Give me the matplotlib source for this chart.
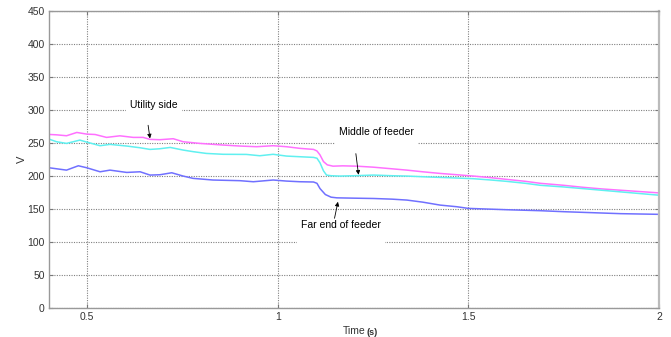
import matplotlib
matplotlib.use('Agg')
import matplotlib.pyplot as plt

plt.rcParams['font.family'] = ['Liberation Sans', 'DejaVu Sans']

# feeder voltage profiles (V) over time (s)
t_util = [0.40, 0.42, 0.446, 0.473, 0.499, 0.521, 0.551, 0.586, 0.621, 0.647, 0.665, 0.691,
          0.726, 0.752, 0.796, 0.857, 0.901, 0.945, 0.988, 1.023, 1.058, 1.094, 1.103, 1.111,
          1.120, 1.130, 1.145, 1.17, 1.207, 1.25, 1.30, 1.339, 1.38, 1.426, 1.47, 1.513, 1.56,
          1.60, 1.65, 1.689, 1.75, 1.80, 1.85, 1.90, 1.95, 2.00]
v_util = [263.1, 262.5, 261.1, 266.1, 263.6, 263.0, 258.6, 261.0, 258.6, 258.6, 255.6, 255.1,
          256.6, 252.0, 249.5, 247.0, 245.5, 244.5, 246.0, 244.5, 242.0, 240.4, 238.0, 232.0,
          222.0, 217.0, 215.0, 215.5, 215.0, 213.5, 211.0, 209.0, 206.5, 204.0, 202.0, 200.0, 197.5,
          195.0, 192.0, 189.0, 186.0, 183.0, 180.5, 178.5, 176.5, 174.5]

t_mid = [0.40, 0.42, 0.446, 0.481, 0.499, 0.534, 0.56, 0.604, 0.639, 0.665, 0.691, 0.718,
         0.752, 0.778, 0.813, 0.857, 0.918, 0.953, 0.988, 1.023, 1.058, 1.094, 1.103, 1.111,
         1.120, 1.128, 1.14, 1.163, 1.20, 1.252, 1.30, 1.339, 1.40, 1.45, 1.513, 1.56, 1.60,
         1.65, 1.689, 1.75, 1.80, 1.85, 1.90, 1.95, 2.00]
v_mid = [256.0, 252.0, 249.5, 254.5, 251.5, 246.0, 248.0, 245.5, 242.9, 240.4, 241.4, 243.4,
         239.4, 237.0, 234.3, 233.0, 232.8, 230.8, 233.0, 230.3, 229.3, 228.3, 227.0, 220.0,
         208.0, 201.5, 200.5, 200.0, 200.5, 201.5, 200.5, 200.0, 198.5, 197.5, 196.0, 194.0, 192.0,
         189.0, 186.0, 183.5, 181.0, 178.5, 176.0, 173.5, 171.0]

t_far = [0.40, 0.446, 0.477, 0.499, 0.534, 0.56, 0.604, 0.639, 0.665, 0.691, 0.722, 0.752,
         0.778, 0.83, 0.901, 0.936, 0.988, 1.023, 1.058, 1.094, 1.103, 1.111, 1.125, 1.14,
         1.155, 1.20, 1.252, 1.30, 1.339, 1.38, 1.426, 1.47, 1.50, 1.55, 1.60, 1.689, 1.75,
         1.80, 1.85, 1.90, 1.95, 2.00]
v_far = [212.6, 209.0, 215.6, 212.6, 206.5, 209.0, 205.5, 206.5, 201.5, 202.0, 205.0, 200.0,
         196.5, 194.0, 193.0, 191.4, 194.0, 192.4, 191.4, 191.0, 189.0, 181.0, 172.0, 168.0,
         167.0, 166.5, 166.0, 165.0, 163.6, 160.5, 156.0, 153.5, 151.0, 150.0, 149.0, 147.5, 146.0,
         145.0, 144.0, 143.0, 142.5, 142.0]

x_ticks = [0.5, 1, 1.5, 2]
x_tick_labels = ['0.5', '1', '1.5', '2']
y_ticks = list(range(0, 451, 50))

fig = plt.figure(figsize=(6.71, 3.37), dpi=100)
ax = fig.add_axes([0.073, 0.086, 0.909, 0.881])

ax.plot(t_util, v_util, color='#ff70ff', lw=1.1)
ax.plot(t_mid, v_mid, color='#60f0f0', lw=1.1)
ax.plot(t_far, v_far, color='#7070ff', lw=1.1)

ax.set_xlim(0.4, 2)
ax.set_ylim(0, 450)
ax.set_xticks(x_ticks)
ax.set_xticklabels(x_tick_labels)
ax.set_yticks(y_ticks)
ax.grid(True, ls=(0, (1, 1.2)), color='#808080', lw=0.8)
ax.set_axisbelow(True)

ax.tick_params(direction='in', length=3, width=0.8, color='#777777', labelsize=7.5,
               labelcolor='#333333', pad=3, top=True, right=True)
for side, sp in ax.spines.items():
    sp.set_color('#999999')
    sp.set_linewidth(1.0)
ax.spines['right'].set_linewidth(1.6)
ax.spines['right'].set_color('#bbbbbb')

ax.set_ylabel('V', fontsize=8, color='#333333', labelpad=0.5)
ax.set_xlabel('Time', fontsize=7.5, color='#333333', labelpad=3)
ax.annotate('(s)', xy=(1, 0.35), xycoords=ax.xaxis.label, xytext=(1, 0),
            textcoords='offset points', fontsize=6.5, fontweight='bold',
            color='#333333', va='center', ha='left')

# curve labels sit on white boxes that interrupt the grid below them
box = dict(fc='white', ec='none', pad=3)
ax.text(0.676, 315, 'Utility side\n', fontsize=7.5, ha='center', va='top', bbox=box, zorder=3)
ax.text(1.260, 275, 'Middle of feeder\n', fontsize=7.5, ha='center', va='top', bbox=box, zorder=3)
ax.text(1.166, 133, 'Far end of feeder\n', fontsize=7.5, ha='center', va='top', bbox=box, zorder=3)

arrow = dict(arrowstyle='-|>', color='black', lw=0.6, mutation_scale=6, shrinkA=0, shrinkB=0)
ax.annotate('', xy=(0.665, 257), xytext=(0.660, 277), arrowprops=arrow, zorder=4)
ax.annotate('', xy=(1.212, 202), xytext=(1.205, 234), arrowprops=arrow, zorder=4)
ax.annotate('', xy=(1.158, 161), xytext=(1.149, 136), arrowprops=arrow, zorder=4)

fig.savefig('out.png', dpi=100)
